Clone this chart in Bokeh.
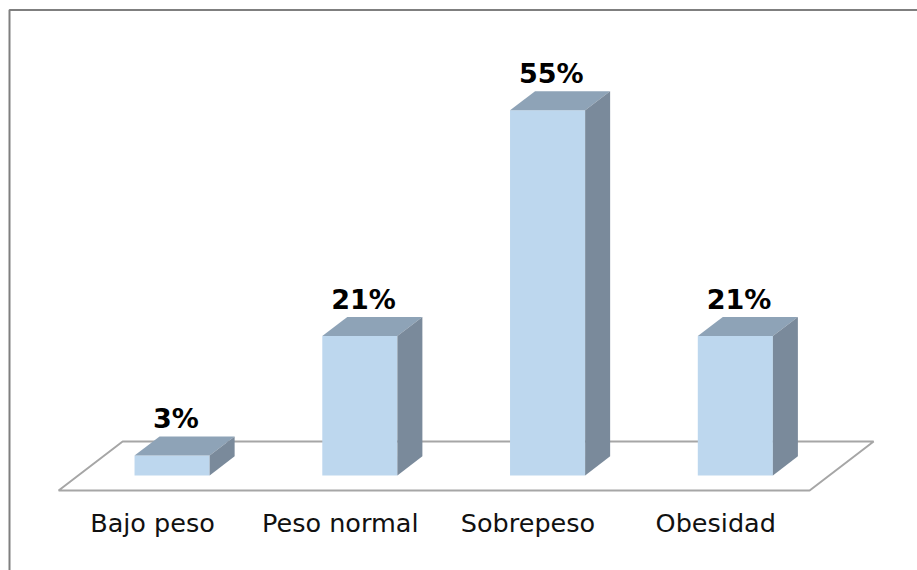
from bokeh.plotting import figure
from bokeh.embed import file_html
from bokeh.resources import INLINE
from bokeh.core.properties import value

# ---- data ----
categories = ["Bajo peso", "Peso normal", "Sobrepeso", "Obesidad"]
values = [3, 21, 55, 21]
value_labels = ["3%", "21%", "55%", "21%"]

# ---- layout / scale (style) ----
W, H = 917, 570
PX_PER_CAT = 187.75
PX_PER_PCT = 6.64
x_start = -152 / PX_PER_CAT
y_end = 475 / PX_PER_PCT
x_end = x_start + W / PX_PER_CAT
y_start = y_end - H / PX_PER_PCT

FLOOR_DX = 64 / PX_PER_CAT
FLOOR_DY = 49 / PX_PER_PCT
FLOOR_FRONT = -15 / PX_PER_PCT
BAR_POS = 15 / 49          # bar front position as fraction of floor depth
BAR_DEPTH = 25 / 64        # bar depth as fraction of floor depth
BAR_W = 0.4

FRONT = "#BDD7EE"
TOP = "#8EA3B7"
SIDE = "#7A8A9B"

p = figure(width=W, height=H, x_range=(x_start, x_end), y_range=(y_start, y_end),
           output_backend="svg", toolbar_location=None, min_border=0,
           x_axis_location=None, y_axis_location=None)
p.grid.visible = False
p.outline_line_color = None
p.background_fill_color = "white"
p.border_fill_color = "white"

n = len(categories)
# floor
p.patch(x=[-0.5, n - 0.5, n - 0.5 + FLOOR_DX, -0.5 + FLOOR_DX],
        y=[FLOOR_FRONT, FLOOR_FRONT, FLOOR_FRONT + FLOOR_DY, FLOOR_FRONT + FLOOR_DY],
        fill_color="white", line_color="#A6A6A6", line_width=2)

ddx = BAR_DEPTH * FLOOR_DX
ddy = BAR_DEPTH * FLOOR_DY
xc = [i + BAR_POS * FLOOR_DX for i in range(n)]
xl = [c - BAR_W / 2 for c in xc]
xr = [c + BAR_W / 2 for c in xc]

top_xs = [[a, b, b + ddx, a + ddx] for a, b in zip(xl, xr)]
top_ys = [[v, v, v + ddy, v + ddy] for v in values]
side_xs = [[b, b + ddx, b + ddx, b] for b in xr]
side_ys = [[0, ddy, v + ddy, v] for v in values]

p.quad(left=xl, right=xr, bottom=0, top=values, fill_color=FRONT, line_color=None)
p.patches(xs=top_xs, ys=top_ys, fill_color=TOP, line_color=None)
p.patches(xs=side_xs, ys=side_ys, fill_color=SIDE, line_color=None)

# value labels
p.text(x=[c + 0.02 for c in xc], y=[v + ddy + 2.66 for v in values], text=value_labels,
       text_font=value("DejaVu Sans"), text_font_style="bold", text_font_size="27px",
       text_align="center", text_baseline="alphabetic", text_color="black")

# category labels
p.text(x=list(range(n)), y=[-7.1] * n, text=categories,
       text_font=value("DejaVu Sans"), text_font_size="25.5px",
       text_align="center", text_baseline="alphabetic", text_color="#111111")

# chart border (only top and left edges visible in the crop)
bx = x_start + 9 / PX_PER_CAT
by = y_end - 9.5 / PX_PER_PCT
p.line(x=[bx, bx, x_end + 1], y=[y_start - 1, by, by], line_color="#7F7F7F", line_width=2)

open("out.html", "w").write(file_html(p, INLINE))
